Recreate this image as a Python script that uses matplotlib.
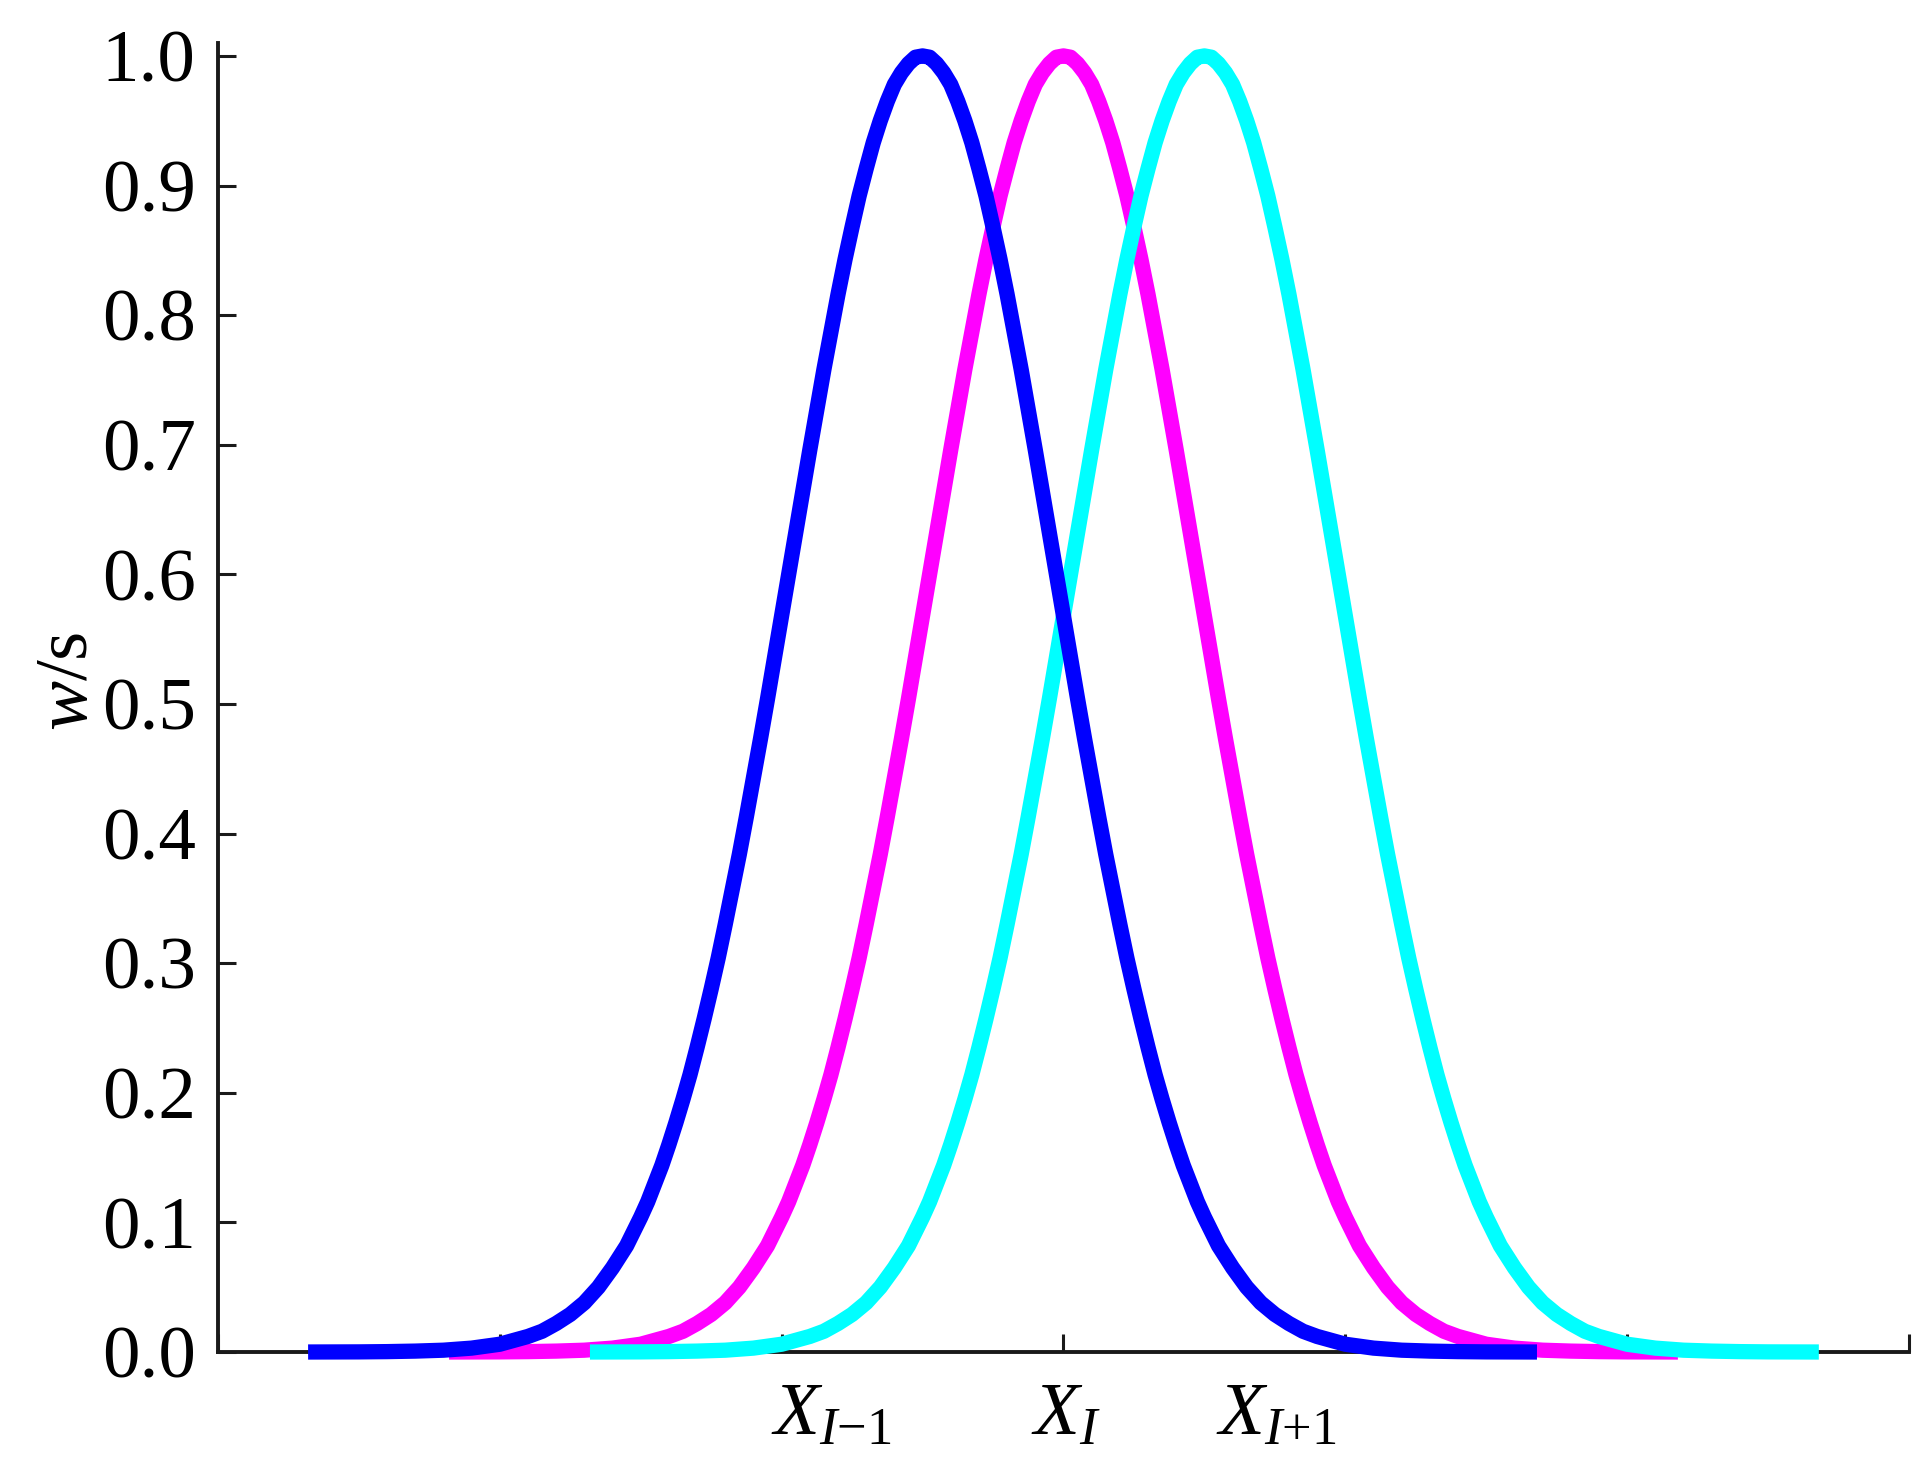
import numpy as np
import matplotlib
matplotlib.use('Agg')
import matplotlib.pyplot as plt

plt.rcParams['font.family'] = ['Liberation Serif', 'DejaVu Serif']
plt.rcParams['mathtext.fontset'] = 'custom'
plt.rcParams['mathtext.rm'] = 'Liberation Serif'
plt.rcParams['mathtext.it'] = 'Liberation Serif:italic'
plt.rcParams['mathtext.bf'] = 'Liberation Serif:bold'

# weight profile (one side, distance from the node centre)
offset = [0.0, 0.05, 0.1, 0.15, 0.2, 0.25, 0.3, 0.35, 0.4, 0.45, 0.5, 0.55,
          0.6, 0.65, 0.7, 0.75, 0.8, 0.85, 0.9, 0.95, 1.0, 1.05, 1.1, 1.15,
          1.2, 1.25, 1.3, 1.35, 1.4, 1.45, 1.5, 1.55, 1.6, 1.65, 1.7, 1.75,
          1.8, 1.85, 1.9, 1.95, 2.0, 2.1, 2.2, 2.3, 2.4, 2.5, 2.6, 2.7, 2.8,
          2.9, 3.0, 3.2, 3.4, 3.6, 3.8, 4.0, 4.36]
w_half = [1.0, 0.999, 0.994, 0.987, 0.978, 0.965, 0.950, 0.933, 0.913, 0.892,
          0.868, 0.843, 0.816, 0.787, 0.758, 0.727, 0.696, 0.664, 0.632, 0.600,
          0.568, 0.536, 0.504, 0.473, 0.443, 0.413, 0.384, 0.357, 0.330, 0.304,
          0.280, 0.257, 0.235, 0.214, 0.195, 0.177, 0.160, 0.144, 0.130, 0.116,
          0.104, 0.082, 0.065, 0.050, 0.038, 0.029, 0.022, 0.016, 0.012, 0.009,
          0.006, 0.003, 0.0014, 0.0007, 0.0003, 0.0001, 0.0]

centers = [-1.0, 0.0, 1.0]
colors = ['#0000ff', '#ff00ff', '#00ffff']
zorders = [5, 3, 4]

x_labels = [r'$X_{I\mathrm{−}1}$', r'$X_{I}$', r'$X_{I\mathrm{+}1}$']
x_label_pos = [-1.65, 0.02, 1.51]
y_ticks = [0.0, 0.1, 0.2, 0.3, 0.4, 0.5, 0.6, 0.7, 0.8, 0.9, 1.0]

off = np.array(offset)
prof_x = np.concatenate([-off[::-1], off[1:]])
prof_w = np.concatenate([np.array(w_half)[::-1], np.array(w_half)[1:]])

fig = plt.figure(figsize=(19.25, 14.61), dpi=100)
ax = fig.add_axes([0.1132, 0.0746, 0.8785, 0.896])

for c, col, z in zip(centers, colors, zorders):
    ax.plot(prof_x + c, prof_w, color=col, lw=11, solid_capstyle='butt',
            solid_joinstyle='round', clip_on=False, zorder=z)

ax.set_xlim(-6, 6)
ax.set_ylim(0, 1.01)
ax.set_xticks([-6, -4, -2, 0, 2, 4, 6])
ax.set_xticklabels([])
ax.set_yticks(y_ticks)
ax.set_yticklabels(['%.1f' % v for v in y_ticks])

for s in ['top', 'right']:
    ax.spines[s].set_visible(False)
for s in ['left', 'bottom']:
    ax.spines[s].set_linewidth(2.8)
    ax.spines[s].set_color('#1a1a1a')

ax.tick_params(axis='both', direction='in', length=13, width=2.2, color='#1a1a1a')
ax.tick_params(axis='y', labelsize=54, pad=16)

for lab, xp in zip(x_labels, x_label_pos):
    ax.text(xp, -0.064, lab, ha='center', va='baseline', fontsize=54, clip_on=False)

fig.text(69 / 1925, 1 - 681 / 1461, r'$w$/s', rotation=90, ha='center',
         va='center', fontsize=54)

fig.savefig('out.png', dpi=100)
